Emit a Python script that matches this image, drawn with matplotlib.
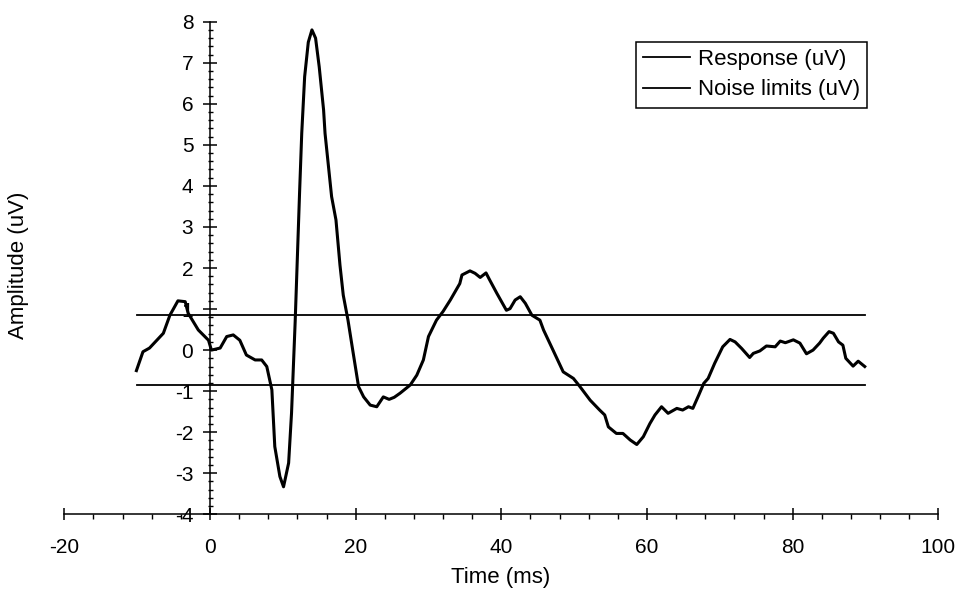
import matplotlib
matplotlib.use("Agg")
import matplotlib.pyplot as plt
from matplotlib.ticker import MultipleLocator

plt.rcParams['font.family'] = ['Liberation Sans', 'DejaVu Sans']
plt.rcParams['axes.unicode_minus'] = False

# ---- data ----
time_ms = [-10.1, -9.2, -8.3, -6.4, -5.5, -4.4, -3.4, -3.0, -1.6, -0.2, 0.2, 1.4, 2.3, 3.2, 4.1,
           5.0, 6.2, 7.1, 7.8, 8.5, 8.9, 9.6, 10.1, 10.8, 11.2, 11.7, 12.3, 12.6, 13.0, 13.5,
           14.0, 14.5, 15.0, 15.6, 15.8, 16.7, 17.3, 17.85, 18.3, 18.95, 19.6, 20.4, 21.1, 22.0,
           22.9, 23.8, 24.6, 25.3, 26.1, 27.5, 28.4, 29.3, 30.0, 31.1, 32.0, 33.0, 34.3, 34.6,
           35.7, 36.4, 37.1, 37.9, 38.4, 39.4, 40.7, 41.2, 41.9, 42.6, 43.3, 44.2, 45.3, 45.8,
           47.1, 48.5, 49.9, 50.8, 52.2, 53.5, 54.2, 54.7, 55.8, 56.7, 57.7, 58.6, 59.5, 60.4,
           61.1, 62.0, 62.9, 64.1, 64.9, 65.7, 66.3, 67.1, 67.8, 68.4, 69.3, 70.4, 71.4, 72.1,
           73.0, 74.1, 74.6, 75.5, 76.4, 77.6, 78.3, 79.0, 80.1, 81.0, 81.9, 82.8, 83.7, 84.2,
           85.0, 85.6, 86.3, 86.9, 87.3, 88.3, 89.0, 89.9]
response_uv = [-0.5, -0.04, 0.05, 0.41, 0.85, 1.2, 1.18, 0.9, 0.49, 0.24, 0.0, 0.05, 0.33, 0.37, 0.24,
               -0.12, -0.24, -0.24, -0.4, -0.97, -2.35, -3.08, -3.33, -2.75, -1.53, 0.7, 3.82, 5.28, 6.66, 7.5,
               7.8, 7.6, 6.9, 5.85, 5.28, 3.74, 3.17, 2.07, 1.34, 0.73, 0.0, -0.89, -1.14, -1.34,
               -1.38, -1.14, -1.2, -1.15, -1.05, -0.85, -0.61, -0.24, 0.33, 0.73, 0.94, 1.22, 1.62, 1.83,
               1.93, 1.87, 1.77, 1.88, 1.71, 1.38, 0.97, 1.01, 1.22, 1.3, 1.14, 0.85, 0.73, 0.49,
               0.0, -0.53, -0.69, -0.89, -1.22, -1.46, -1.58, -1.87, -2.03, -2.03, -2.19, -2.3, -2.11, -1.79,
               -1.58, -1.38, -1.54, -1.42, -1.46, -1.38, -1.42, -1.10, -0.81, -0.69, -0.32, 0.08, 0.26, 0.2,
               0.04, -0.18, -0.08, -0.02, 0.1, 0.08, 0.22, 0.18, 0.25, 0.17, -0.09, 0.0, 0.17, 0.29,
               0.45, 0.41, 0.2, 0.12, -0.2, -0.39, -0.27, -0.4]
noise_time = [-10.0, 90.0]
noise_upper = [0.86, 0.86]
noise_lower = [-0.86, -0.86]

x_ticks = [-20, 0, 20, 40, 60, 80, 100]
y_ticks = [-4, -3, -2, -1, 0, 1, 2, 3, 4, 5, 6, 7, 8]

# ---- figure ----
fig = plt.figure(figsize=(9.57, 5.99), dpi=100)
W, H = 957, 599
ax = fig.add_axes([64.3 / W, 1 - 514.3 / H, (938.3 - 64.3) / W, (514.3 - 21.7) / H])

ln_resp, = ax.plot(time_ms, response_uv, color='black', lw=2.2, label='Response (uV)',
                   solid_joinstyle='round')
ln_noise, = ax.plot(noise_time, noise_upper, color='black', lw=1.3, label='Noise limits (uV)')
ax.plot(noise_time, noise_lower, color='black', lw=1.3, label='_nolegend_')

ax.set_xlim(-20, 100)
ax.set_ylim(-4, 8)
ax.set_xticks(x_ticks)
ax.set_yticks(y_ticks)
ax.xaxis.set_minor_locator(MultipleLocator(4))
ax.yaxis.set_minor_locator(MultipleLocator(0.2))

for s in ['top', 'right']:
    ax.spines[s].set_visible(False)
ax.spines['left'].set_position(('data', 0))
ax.spines['left'].set_linewidth(1.1)
ax.spines['bottom'].set_linewidth(1.1)

ax.tick_params(axis='x', which='major', direction='inout', length=8.6, width=1.1,
               labelsize=15, pad=13)
ax.tick_params(axis='x', which='minor', direction='out', length=3.6, width=1.0)
ax.tick_params(axis='y', which='major', direction='inout', length=10, width=1.1,
               labelsize=15, pad=7)
ax.tick_params(axis='y', which='minor', direction='inout', length=3.6, width=1.0)

fig.text(19 / W, 1 - 265 / H, 'Amplitude (uV)', rotation=90, ha='center', va='center',
         fontsize=16)
fig.text(501 / W, 1 - 578 / H, 'Time (ms)', ha='center', va='center', fontsize=16)

leg = ax.legend(handles=[ln_resp, ln_noise], loc='upper left',
                bbox_to_anchor=(636 / W, 1 - 41.7 / H), bbox_transform=fig.transFigure,
                fontsize=16, frameon=True, fancybox=False, shadow=False,
                handlelength=2.1, handletextpad=0.35, labelspacing=0.42,
                borderpad=0.33, borderaxespad=0)
leg.get_frame().set_edgecolor('black')
leg.get_frame().set_linewidth(1.1)
leg.get_frame().set_alpha(1)
for l in leg.get_lines():
    l.set_linewidth(1.3)

fig.savefig('out.png', dpi=100)
